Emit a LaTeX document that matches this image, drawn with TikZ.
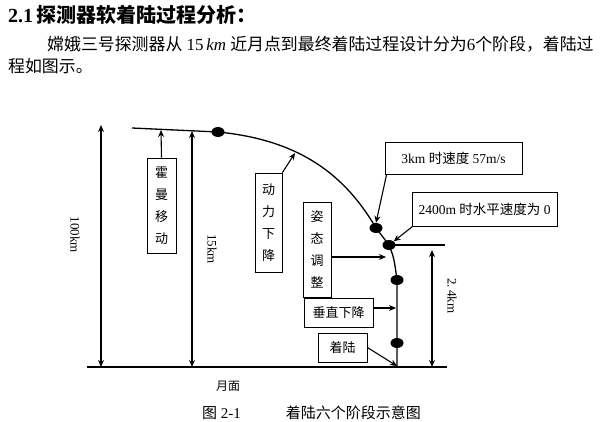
\documentclass[tikz,border=0pt]{standalone}
\usepackage{fontspec}
\setmainfont{Liberation Serif}
\newfontfamily\cjk{Noto Sans CJK SC}
\usetikzlibrary{arrows.meta,shapes.geometric}

\begin{document}
\begin{tikzpicture}[x=1pt,y=-1pt,
		every node/.style={inner sep=0pt},
		track/.style={line width=1.3pt},
		dim/.style={line width=1.3pt, {Stealth[length=7pt,width=6pt]}-{Stealth[length=7pt,width=6pt]}},
		pointer/.style={line width=1.1pt, -{Stealth[length=7pt,width=6pt]}},
		dot/.style={ellipse, fill=black, minimum width=13pt, minimum height=10pt},
		stagebox/.style={draw, line width=0.8pt, align=center, font=\cjk\fontsize{13}{22}\selectfont},
		notebox/.style={draw, line width=0.8pt, font=\fontsize{13.5}{15}\selectfont}]
		\useasboundingbox (0,0) rectangle (600,421);
		
		% heading and text
		\node[anchor=west, font=\bfseries\fontsize{20}{22}\selectfont] (head) at (8,15) {2.1\,{\cjk 探测器软着陆过程分析：}};
		\node[anchor=west, font=\fontsize{16.9}{18}\selectfont] (line1) at (47,44) {{\cjk 嫦娥三号探测器从} 15\,\textit{km} {\cjk 近月点到最终着陆过程设计分为}6{\cjk 个阶段，着陆过}};
		\node[anchor=west, font=\cjk\fontsize{16.9}{18}\selectfont] (line2) at (8,66) {程如图示。};
		
		% moon surface
		\coordinate (g0) at (87,367);
		\coordinate (g1) at (447,367);
		\draw[line width=2pt] (g0) -- (g1);
		\node[font=\cjk\fontsize{12}{14}\selectfont] (moon) at (228,386) {月面};
		
		% trajectory
		\coordinate (orbit) at (132,128);
		\node[dot] (d1) at (218,132) {};
		\node[dot] (d2) at (376,228) {};
		\node[dot] (d3) at (389,245) {};
		\node[dot] (d4) at (397,280) {};
		\node[dot] (d5) at (397,343) {};
		\coordinate (land) at (397,366);
		\draw[track] (orbit) -- (d1.center) .. controls (300,140) and (345,175) .. (d2.center)
			-- (d3.center) .. controls (394,258) .. (d4.center) -- (land);
		\coordinate (lvl) at (445,245);
		\draw[track] (d3.center) -- (lvl);
		
		% heights
		\coordinate (h100t) at (101,125);
		\coordinate (h100b) at (101,367);
		\draw[dim] (h100t) -- (h100b);
		\node[rotate=-90, font=\fontsize{13}{15}\selectfont] (l100) at (75,235) {100km};
		\coordinate (h15t) at (192,131);
		\coordinate (h15b) at (192,367);
		\draw[dim] (h15t) -- (h15b);
		\node[rotate=-90, font=\fontsize{13}{15}\selectfont] (l15) at (212,249) {15km};
		\coordinate (h24t) at (432,250);
		\coordinate (h24b) at (432,367);
		\draw[dim] (h24t) -- (h24b);
		\node[rotate=-90, font=\fontsize{13}{15}\selectfont] (l24) at (452,296) {2.\,4km};
		
		% stages
		\node[stagebox, minimum width=29pt, minimum height=95pt] (hm) at (161.5,205.5) {霍\\曼\\移\\动};
		\node[stagebox, minimum width=27pt, minimum height=99pt] (dl) at (268.5,222.5) {动\\力\\下\\降};
		\node[stagebox, minimum width=28pt, minimum height=95pt] (zt) at (317,249.5) {姿\\态\\调\\整};
		\node[stagebox, minimum width=69pt, minimum height=29pt] (cz) at (338.5,312.5) {垂直下降};
		\node[stagebox, minimum width=49pt, minimum height=29pt] (zl) at (342.5,347.5) {着陆};
		\node[notebox, minimum width=137pt, minimum height=32pt] (v3) at (453.5,158) {3km {\cjk 时速度} 57m/s};
		\node[notebox, minimum width=145pt, minimum height=34pt] (v24) at (484.5,209) {2400m {\cjk 时水平速度为} 0};
		
		% pointers
		\coordinate (p1) at (161,130);
		\coordinate (p2) at (295,153);
		\coordinate (p3) at (386,257);
		\coordinate (p4) at (396,308);
		\draw[pointer] (hm.north) -- (p1);
		\draw[pointer] (dl.north east) -- (p2);
		\draw[pointer] (zt.east |- p3) -- (p3);
		\draw[pointer] (cz.east |- p4) -- (p4);
		\draw[pointer] (zl.east) -- (land);
		\draw[pointer] ([xshift=2pt]v3.south west) -- (d2.north);
		\draw[pointer] ([xshift=1pt]v24.south west) -- (d3.north east);
		
		% caption
		\node[anchor=west, font=\fontsize{15}{17}\selectfont] (cap) at (202,413) {{\cjk 图} 2-1\hspace{3em}{\cjk 着陆六个阶段示意图}};
	\end{tikzpicture}
\end{document}
